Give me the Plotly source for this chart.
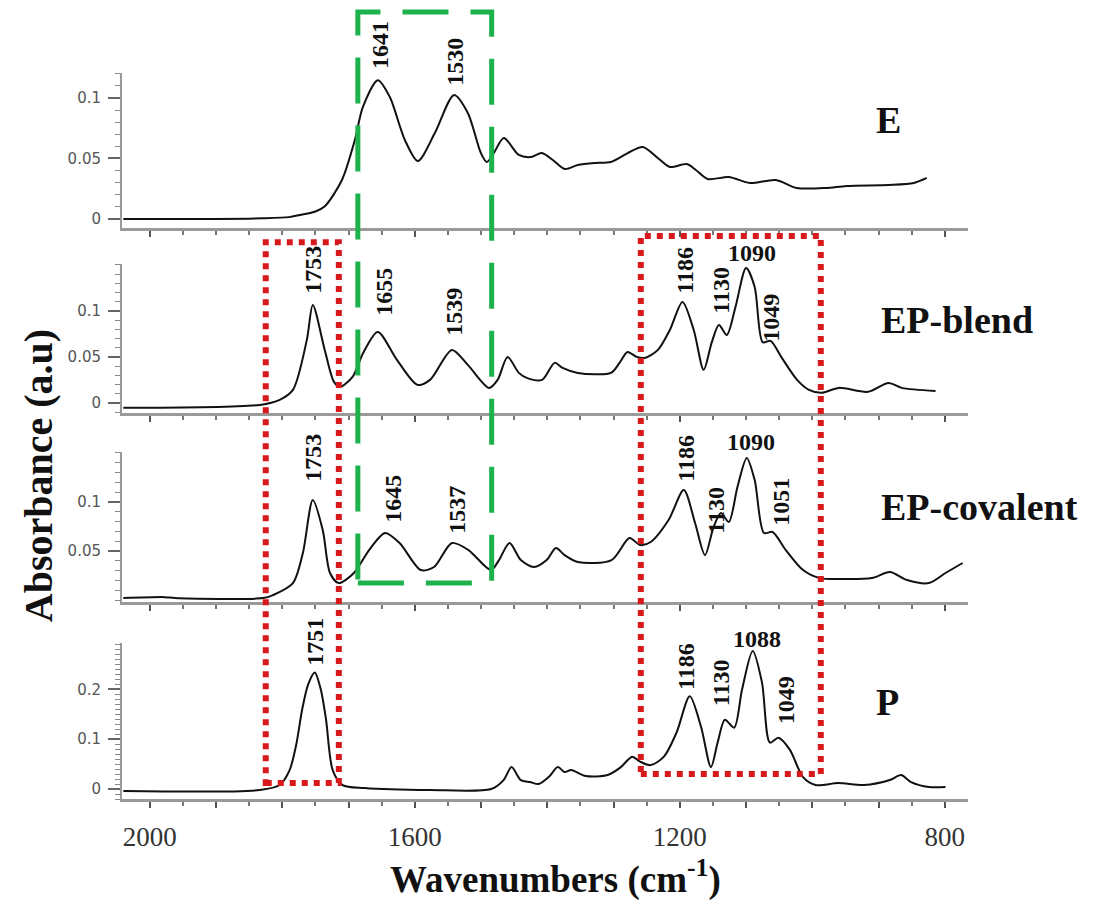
import plotly.graph_objects as go

# ---------------- data ----------------
wn_E = [2040, 1900, 1830, 1790, 1773.6, 1750, 1735.8, 1710, 1690.5, 1678.5, 1655.8, 1637.7, 1615, 1595.4,
        1569.8, 1541, 1520, 1500.3, 1491.3, 1480.8, 1465.6, 1443, 1424.9, 1408.3, 1391.7, 1373.6,
        1354, 1328.3, 1304.1, 1278.5, 1255.8, 1233.2, 1215.1, 1189.4, 1175.8, 1157.7, 1126, 1094.3,
        1055.1, 1023.4, 979.6, 947.9, 884.5, 846.8, 827.2]
ab_E = [0, 0, 0.0005, 0.0015, 0.0033, 0.0062, 0.0105, 0.0322, 0.0653, 0.0925, 0.1148, 0.1008, 0.0653, 0.0479,
        0.071, 0.1024, 0.0876, 0.0545, 0.0471, 0.0545, 0.0669, 0.0529, 0.0512, 0.0545, 0.0487, 0.0413,
        0.0446, 0.0463, 0.0471, 0.0545, 0.0595, 0.0504, 0.043, 0.0454, 0.0405, 0.033, 0.0347, 0.0297,
        0.0322, 0.0256, 0.0256, 0.0273, 0.0281, 0.0297, 0.0339]

wn_B = [2040, 1834, 1804, 1784, 1763, 1754, 1736, 1722, 1713, 1694, 1678, 1656, 1627, 1596, 1577, 1544,
        1520, 1488, 1475, 1460, 1443, 1431, 1408, 1389, 1377, 1354, 1304, 1291, 1279, 1265, 1253, 1233,
        1215, 1196, 1179, 1164, 1152, 1141, 1129, 1116, 1100, 1087, 1075, 1063, 1046, 1023, 1005, 986,
        960, 916, 885, 865, 814]
ab_B = [-0.0054, -0.0022, 0.0033, 0.0141, 0.0685, 0.1065, 0.0576, 0.0228, 0.0174, 0.0283, 0.0543, 0.0772,
        0.0467, 0.0196, 0.025, 0.0576, 0.0413, 0.0163, 0.025, 0.05, 0.0326, 0.0272, 0.025, 0.0435, 0.038,
        0.0326, 0.0326, 0.0435, 0.0554, 0.05, 0.0489, 0.0576, 0.0793, 0.1098, 0.0793, 0.0359, 0.0652,
        0.0848, 0.0739, 0.1043, 0.1467, 0.1261, 0.066, 0.0675, 0.0489, 0.025, 0.0141, 0.0109, 0.0163,
        0.012, 0.0217, 0.0163, 0.013]

wn_C = [2040, 1977, 1962, 1829, 1814, 1784, 1769, 1754, 1739, 1728, 1715, 1692, 1669, 1645, 1623, 1591,
        1571, 1544, 1519, 1485, 1473, 1457, 1440, 1420, 1401, 1387, 1374, 1354, 1303, 1276, 1260, 1244,
        1217, 1194, 1177, 1162, 1149, 1138, 1126, 1113, 1099, 1087, 1073, 1060, 1040, 1014, 989, 956,
        910, 883, 857, 824, 799, 773]
ab_C = [0.002, 0.003, 0.002, 0.002, 0.0051, 0.0173, 0.048, 0.102, 0.0714, 0.0276, 0.0173, 0.0276, 0.051,
        0.0684, 0.0582, 0.0306, 0.0337, 0.0582, 0.051, 0.0306, 0.0408, 0.0582, 0.0408, 0.0337, 0.0408,
        0.0531, 0.0459, 0.0388, 0.0408, 0.0633, 0.0561, 0.0592, 0.0816, 0.1122, 0.0786, 0.0459, 0.0745,
        0.0888, 0.0796, 0.1153, 0.1449, 0.1224, 0.0684, 0.0694, 0.051, 0.0306, 0.0224, 0.0214, 0.0224,
        0.0286, 0.0204, 0.0173, 0.0276, 0.0378]

wn_P = [2040, 1834, 1804, 1789, 1779, 1770, 1761, 1751, 1742, 1734, 1724, 1709, 1676, 1577, 1485, 1466,
        1454, 1440, 1426, 1413, 1398, 1384, 1374, 1364, 1342, 1309, 1289, 1272, 1260, 1244, 1224, 1205,
        1185, 1168, 1153, 1143, 1132, 1118, 1106, 1090, 1076, 1064, 1051, 1034, 1014, 995, 961, 922,
        883, 866, 851, 824, 799]
ab_P = [-0.004, -0.002, 0.008, 0.038, 0.089, 0.16, 0.21, 0.234, 0.2, 0.139, 0.038, 0.008, 0.002, -0.002,
        0, 0.018, 0.044, 0.018, 0.014, 0.01, 0.024, 0.044, 0.034, 0.038, 0.026, 0.028, 0.044, 0.065,
        0.055, 0.048, 0.065, 0.113, 0.186, 0.125, 0.044, 0.093, 0.139, 0.123, 0.2, 0.277, 0.214, 0.093,
        0.103, 0.079, 0.024, 0.008, 0.012, 0.008, 0.018, 0.028, 0.014, 0.004, 0.004]

series_names = ["E", "EP-blend", "EP-covalent", "P"]

# peak labels: (text, wavenumber, absorbance, vertical?)
peaks_E = [("1641", 1652.8, 0.1438, True), ("1530", 1539.6, 0.1298, True)]
peaks_B = [("1753", 1753.9, 0.1446, True), ("1655", 1646.8, 0.1207, True), ("1539", 1541.1, 0.0989, True),
           ("1186", 1192.5, 0.1446, True), ("1130", 1138.1, 0.1228, True), ("1090", 1091.3, 0.163, False),
           ("1049", 1062.6, 0.0924, True)]
peaks_C = [("1753", 1753.9, 0.1449, True), ("1645", 1633.2, 0.1031, True), ("1537", 1536.6, 0.0918, True),
           ("1186", 1190.9, 0.1449, True), ("1130", 1146.0, 0.0918, True), ("1090", 1092.8, 0.1612, False),
           ("1051", 1047.5, 0.100, True)]
peaks_P = [("1751", 1750.9, 0.295, True), ("1186", 1190.9, 0.2465, True), ("1130", 1138.1, 0.2141, True),
           ("1088", 1083.8, 0.301, False), ("1049", 1038.5, 0.1778, True)]

name_pos = [(884.5, 0.0818), (781.9, 0.0902), (747.2, 0.0949), (886.7, 0.1737)]

x_tickvals = list(range(2000, 799, -100))
x_ticktext = [str(v) if v in (2000, 1600, 1200, 800) else "" for v in x_tickvals]

# highlight boxes: (x0, x1, y0 paper, y1 paper)
green_box = (1686, 1484, 0.2975, 1.084)
red_boxes = [(1825, 1714.7, 0.022, 0.767), (1258.9, 987.2, 0.0344, 0.7755)]

# ---------------- figure ----------------
xrange_ = [2042, 765]
domains = [[0.7865, 1.0], [0.5317, 0.7369], [0.2713, 0.478], [0.0, 0.2149]]
yranges = [[-0.0075, 0.1207], [-0.011, 0.151], [-0.002, 0.151], [-0.02, 0.293]]
ytickvals = [[0, 0.05, 0.1], [0, 0.05, 0.1], [0.05, 0.1], [0, 0.1, 0.2]]
yticktext = [["0", "0.05", "0.1"], ["0", "0.05", "0.1"], ["0.05", "0.1"], ["0", "0.1", "0.2"]]


def to_paper(w, a, i):
    px = (xrange_[0] - w) / (xrange_[0] - xrange_[1])
    d0, d1 = domains[i]
    r0, r1 = yranges[i]
    py = d0 + (a - r0) / (r1 - r0) * (d1 - d0)
    return px, py


wns = [wn_E, wn_B, wn_C, wn_P]
abs_ = [ab_E, ab_B, ab_C, ab_P]

fig = go.Figure()
axis_col = "#9a9a9a"
for i in range(4):
    sfx = "" if i == 0 else str(i + 1)
    fig.add_trace(go.Scatter(x=wns[i], y=abs_[i], mode="lines", name=series_names[i],
                             line=dict(color="#111111", width=2, shape="spline", smoothing=0.8),
                             xaxis="x" + sfx, yaxis="y" + sfx, showlegend=False))
    xa = dict(range=xrange_, domain=[0, 1], anchor="y" + sfx, showgrid=False, zeroline=False,
              showline=True, linecolor=axis_col, linewidth=3,
              tickmode="array", tickvals=x_tickvals, ticktext=x_ticktext,
              ticks="outside", ticklen=6, tickwidth=2, tickcolor="#555",
              minor=dict(tickmode="linear", tick0=800, dtick=50, ticks="outside", ticklen=4,
                         tickwidth=1.5, tickcolor="#777"),
              showticklabels=(i == 3),
              tickfont=dict(family="Liberation Serif, Times New Roman, serif", size=27, color="#333"),
              ticklabelstandoff=6)
    if i > 0:
        xa["matches"] = "x"
    ya = dict(range=yranges[i], domain=domains[i], anchor="x" + sfx, showgrid=False, zeroline=False,
              showline=True, linecolor=axis_col, linewidth=2,
              tickmode="array", tickvals=ytickvals[i], ticktext=yticktext[i],
              ticks="outside", ticklen=12, tickwidth=1.5, tickcolor="#666",
              minor=dict(tickmode="linear", tick0=0, dtick=0.01, ticks="outside", ticklen=5,
                         tickwidth=1, tickcolor="#888"),
              tickfont=dict(family="DejaVu Sans, sans-serif", size=15, color="#555"),
              ticklabelstandoff=4)
    fig.update_layout(**{"xaxis" + sfx: xa, "yaxis" + sfx: ya})

annos = []
serif = "Liberation Serif, Times New Roman, serif"
lab_font = dict(family=serif, size=24, color="#111")
for i, peaks in enumerate([peaks_E, peaks_B, peaks_C, peaks_P]):
    for txt, w, a, vert in peaks:
        px, py = to_paper(w, a, i)
        annos.append(dict(text="<b>" + txt + "</b>", x=px, y=py, xref="paper", yref="paper",
                          showarrow=False, textangle=-90 if vert else 0, font=lab_font,
                          xanchor="center", yanchor="middle"))
    px, py = to_paper(name_pos[i][0], name_pos[i][1], i)
    annos.append(dict(text="<b>" + series_names[i] + "</b>", x=px, y=py, xref="paper", yref="paper",
                      showarrow=False, font=dict(family=serif, size=38, color="#111"),
                      xanchor="center", yanchor="middle"))

annos.append(dict(text="<b>Absorbance (a.u)</b>", x=-0.0993, y=0.446, xref="paper", yref="paper",
                  showarrow=False, textangle=-90,
                  font=dict(family=serif, size=40, color="#111"),
                  xanchor="center", yanchor="middle"))
annos.append(dict(text="<b>Wavenumbers (cm<sup>-1</sup>)</b>", x=0.513, y=-0.107, xref="paper",
                  yref="paper", showarrow=False,
                  font=dict(family=serif, size=37, color="#111"),
                  xanchor="center", yanchor="middle"))

shapes = []
gx0, gx1, gy0, gy1 = green_box
shapes.append(dict(type="rect", xref="x", yref="paper", x0=gx0, x1=gx1, y0=gy0, y1=gy1,
                   line=dict(color="#1db24b", width=5, dash="46px,22px"), fillcolor="rgba(0,0,0,0)"))
for rx0, rx1, ry0, ry1 in red_boxes:
    shapes.append(dict(type="rect", xref="x", yref="paper", x0=rx0, x1=rx1, y0=ry0, y1=ry1,
                       line=dict(color="#d7191c", width=6, dash="6px,6px"), fillcolor="rgba(0,0,0,0)"))

# page body has an 8px offset, so margins are shifted by 8px to compensate
fig.update_layout(width=1096, height=908, paper_bgcolor="white", plot_bgcolor="white",
                  margin=dict(l=114, r=136, t=65, b=117), annotations=annos, shapes=shapes)

fig.write_html("out.html")
